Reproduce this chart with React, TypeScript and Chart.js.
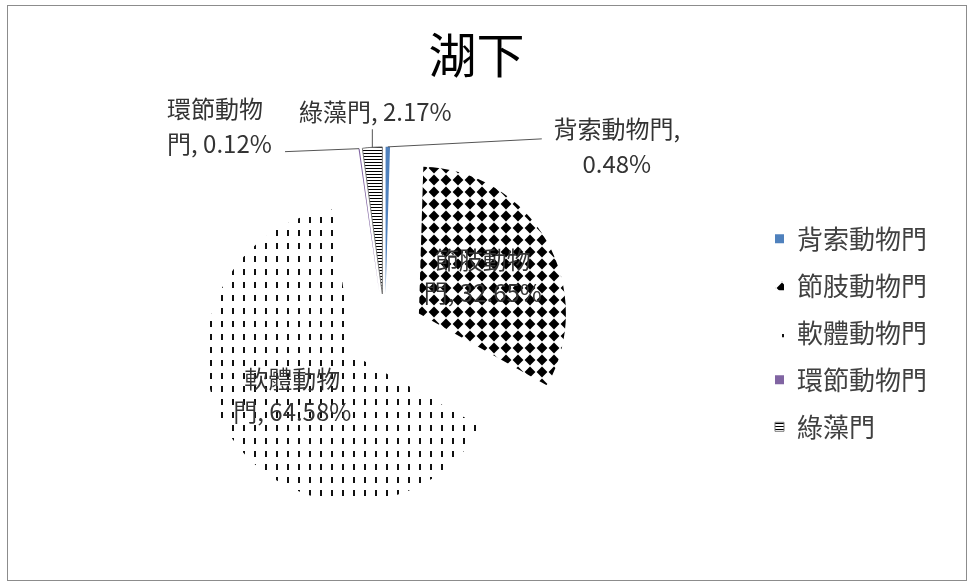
import React, { useEffect, useRef } from 'react';
import { Chart, registerables } from 'chart.js';

Chart.register(...registerables);

// ---------------- data ----------------
const TITLE = '湖下';
const categories = ['背索動物門', '節肢動物門', '軟體動物門', '環節動物門', '綠藻門'];
const percentages = [0.48, 32.65, 64.58, 0.12, 2.17];
// fill kinds per slice
const fillKinds = ['solid:#4F81BD', 'diamond', 'vdash', 'solid:#8064A2', 'hlines'];
// character index at which each data label wraps (0 = single line)
const labelBreaks = [6, 4, 4, 4, 0];

// ---------------- label placement (relative to slice geometry) ----------------
type Placement =
  | { mode: 'inside' }
  | { mode: 'outside'; leader: [number, number]; text: [number, number]; align: CanvasTextAlign };

const labelPlacement: Placement[] = [
  { mode: 'outside', leader: [154, -8], text: [229, -18], align: 'center' },
  { mode: 'inside' },
  { mode: 'inside' },
  { mode: 'outside', leader: [-74, 3], text: [-192, -40], align: 'left' },
  { mode: 'outside', leader: [0, -18], text: [3, -35], align: 'center' },
];

const FONT = "'Noto Sans CJK TC', 'Noto Sans', sans-serif";
const EXPLODE_RATIO = 0.265;

function makePattern(kind: string): string | CanvasPattern {
  if (kind.startsWith('solid:')) return kind.slice(6);
  const c = document.createElement('canvas');
  const g = c.getContext('2d')!;
  if (kind === 'diamond') {
    c.width = 12; c.height = 12;
    g.fillStyle = '#fff'; g.fillRect(0, 0, 12, 12);
    g.fillStyle = '#000';
    g.beginPath();
    g.moveTo(6, 0.6); g.lineTo(11.4, 6); g.lineTo(6, 11.4); g.lineTo(0.6, 6);
    g.closePath(); g.fill();
  } else if (kind === 'vdash') {
    c.width = 11; c.height = 13;
    g.fillStyle = '#fff'; g.fillRect(0, 0, 11, 13);
    g.fillStyle = '#111';
    g.fillRect(4, 3, 2, 6);
  } else if (kind === 'hlines') {
    c.width = 4; c.height = 3;
    g.fillStyle = '#fff'; g.fillRect(0, 0, 4, 3);
    g.fillStyle = '#000';
    g.fillRect(0, 0, 4, 1);
  }
  return g.createPattern(c, 'repeat')!;
}

function labelLines(i: number): string[] {
  const full = `${categories[i]}, ${percentages[i].toFixed(2)}%`;
  const b = labelBreaks[i];
  if (!b) return [full];
  return [full.slice(0, b).trim(), full.slice(b).trim()];
}

const pieExtras = {
  id: 'pieExtras',
  beforeDatasetsDraw(chart: any) {
    const meta = chart.getDatasetMeta(0);
    const saved: number[][] = [];
    meta.data.forEach((el: any) => {
      const mid = (el.startAngle + el.endAngle) / 2;
      const d = el.outerRadius * EXPLODE_RATIO;
      saved.push([el.x, el.y]);
      el.x += Math.cos(mid) * d;
      el.y += Math.sin(mid) * d;
    });
    chart.$explodeSaved = saved;
  },
  afterDatasetsDraw(chart: any) {
    const ctx: CanvasRenderingContext2D = chart.ctx;
    const meta = chart.getDatasetMeta(0);
    ctx.save();
    ctx.font = `24px ${FONT}`;
    ctx.fillStyle = '#333';
    ctx.textBaseline = 'middle';
    meta.data.forEach((el: any, i: number) => {
      const mid = (el.startAngle + el.endAngle) / 2;
      const R = el.outerRadius;
      const lines = labelLines(i);
      const p = labelPlacement[i];
      if (p.mode === 'inside') {
        const cx = el.x + Math.cos(mid) * R / 2;
        const cy = el.y + Math.sin(mid) * R / 2;
        ctx.textAlign = 'center';
        ctx.fillText(lines[0], cx, cy - 18);
        if (lines[1]) ctx.fillText(lines[1], cx, cy + 15);
      } else {
        const ox = el.x + Math.cos(mid) * R;
        const oy = el.y + Math.sin(mid) * R;
        ctx.strokeStyle = '#555';
        ctx.lineWidth = 1;
        ctx.beginPath();
        ctx.moveTo(ox, oy);
        ctx.lineTo(ox + p.leader[0], oy + p.leader[1]);
        ctx.stroke();
        ctx.textAlign = p.align;
        ctx.fillText(lines[0], ox + p.text[0], oy + p.text[1]);
        if (lines[1]) ctx.fillText(lines[1], ox + p.text[0], oy + p.text[1] + 35);
      }
    });
    ctx.restore();
  },
  afterDraw(chart: any) {
    const meta = chart.getDatasetMeta(0);
    const saved = chart.$explodeSaved;
    if (!saved) return;
    meta.data.forEach((el: any, i: number) => {
      el.x = saved[i][0];
      el.y = saved[i][1];
    });
    chart.$explodeSaved = null;
  },
};

export default function App() {
  const ref = useRef<HTMLCanvasElement | null>(null);
  useEffect(() => {
    if (!ref.current) return;
    Chart.defaults.font.family = FONT;
    const fills = fillKinds.map(makePattern);
    const chart = new Chart(ref.current, {
      type: 'pie',
      data: {
        labels: categories,
        datasets: [
          {
            data: percentages,
            backgroundColor: fills as any,
            borderColor: '#777',
            borderWidth: [0, 0, 0, 0, 1],
            radius: 147,
          } as any,
        ],
      },
      options: {
        responsive: false,
        animation: false,
        layout: { padding: { left: 8, right: 29, top: 0, bottom: 0 } },
        plugins: {
          title: {
            display: true,
            text: TITLE,
            color: '#000',
            font: { family: FONT, size: 48, weight: 'normal' },
            padding: { top: 20, bottom: 2 },
          },
          legend: {
            position: 'right',
            fullSize: false,
            labels: {
              boxWidth: 9,
              boxHeight: 9,
              padding: 21,
              color: '#404040',
              font: { family: FONT, size: 26 },
            },
          },
          tooltip: { enabled: false },
        },
      },
      plugins: [pieExtras],
    });
    return () => chart.destroy();
  }, []);
  return (
    <div
      style={{
        position: 'absolute',
        left: 7,
        top: 5,
        width: 958,
        height: 574,
        border: '1px solid #8c8c8c',
        background: '#fff',
      }}
    >
      <canvas ref={ref} width={958} height={574} style={{ display: 'block' }} />
    </div>
  );
}
